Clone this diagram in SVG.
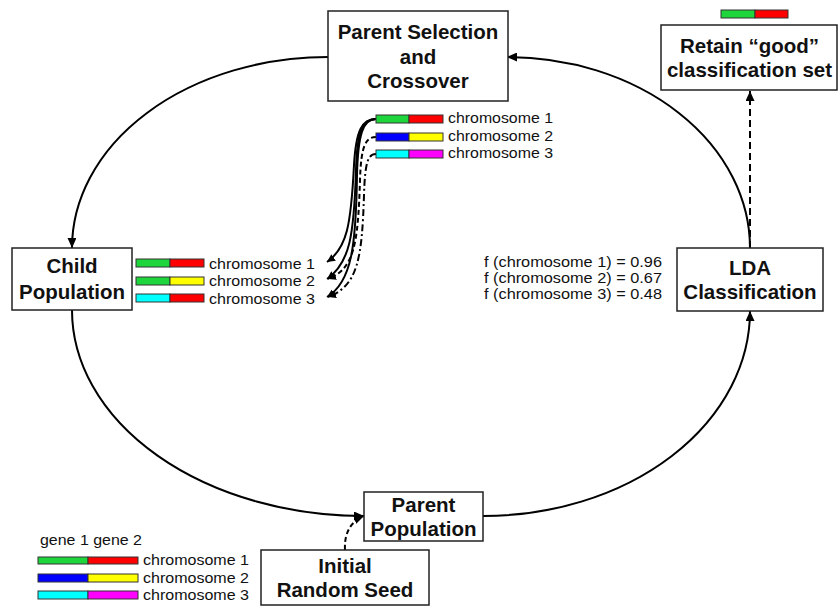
<svg xmlns="http://www.w3.org/2000/svg" width="839" height="606" viewBox="0 0 839 606">
<style>
.box{fill:#fff;stroke:#222;stroke-width:1.5}
.t{font-family:"Liberation Sans",Arial,sans-serif;font-weight:bold;font-size:20.5px;fill:#111;text-anchor:middle}
.r{font-family:"Liberation Sans",Arial,sans-serif;font-size:15px;fill:#111}
.bar{stroke:#333;stroke-width:1}
.loop{fill:none;stroke:#000;stroke-width:2}
.xo{fill:none;stroke:#000;stroke-width:2}
.g{fill:#1ed63c}.rd{fill:#ff0000}.b{fill:#0000ff}.y{fill:#ffff00}.c{fill:#00ffff}.m{fill:#ff00ff}
</style>
<defs>
<marker id="ah" markerUnits="userSpaceOnUse" markerWidth="11" markerHeight="9" refX="10" refY="4.5" orient="auto"><path d="M0,0 L10,4.5 L0,9 z" fill="#000"/></marker>
<marker id="ahs" markerUnits="userSpaceOnUse" markerWidth="9" markerHeight="8" refX="8" refY="4" orient="auto"><path d="M0,0 L8,4 L0,8 z" fill="#000"/></marker>
</defs>
<g id="connectors">
<path class="loop" d="M328,57 A256,191 0 0 0 72,248" marker-end="url(#ah)"/>
<path class="loop" d="M72,310 A292,206 0 0 0 364,516" marker-end="url(#ah)"/>
<path class="loop" d="M483,516 A267,205 0 0 0 750,311" marker-end="url(#ah)"/>
<path class="loop" d="M750,248 A243,191 0 0 0 507,57" marker-end="url(#ah)"/>
<path class="loop" d="M750,248 L750,91" stroke-dasharray="7,4" marker-end="url(#ah)"/>
<path class="loop" d="M345,550 C344,533 351,521 364,516" stroke-dasharray="5,3" marker-end="url(#ah)"/>
<path class="xo" d="M376,119 C362,119 356,130 354,165 C351,225 347,248 327,262" marker-end="url(#ahs)"/>
<path class="xo" d="M376,119 C362,119 357,132 356,170 C354,235 350,263 327,279" marker-end="url(#ahs)"/>
<path class="xo" d="M376,119 C363,119 358,134 357,175 C356,245 352,282 327,297" marker-end="url(#ahs)"/>
<path class="xo" d="M376,137 C366,137 361,145 360,180 C358,245 354,269 328,279" stroke-dasharray="5,3" marker-end="url(#ahs)"/>
<path class="xo" d="M376,154 C368,154 365,162 364,195 C362,258 358,286 328,297" stroke-dasharray="7,3,2,3" marker-end="url(#ahs)"/>
</g>
<g id="parent-selection">
<rect class="box" x="328" y="11" width="180" height="90"/>
<text class="t" x="418" y="39">Parent Selection</text>
<text class="t" x="418" y="64">and</text>
<text class="t" x="418" y="88">Crossover</text>
</g>
<g id="retain">
<rect class="box" x="661" y="25" width="176" height="65"/>
<text class="t" x="749.5" y="53">Retain “good”</text>
<text class="t" x="749.5" y="77">classification set</text>
<rect class="bar g" x="721" y="10" width="34" height="8"/>
<rect class="bar rd" x="755" y="10" width="33" height="8"/>
</g>
<g id="child-population">
<rect class="box" x="12" y="248" width="120" height="62"/>
<text class="t" x="72" y="273">Child</text>
<text class="t" x="72" y="299">Population</text>
</g>
<g id="lda">
<rect class="box" x="677" y="248" width="146" height="63"/>
<text class="t" x="750" y="275">LDA</text>
<text class="t" x="750" y="299">Classification</text>
</g>
<g id="parent-population">
<rect class="box" x="364" y="492" width="119" height="49"/>
<text class="t" x="423.5" y="512">Parent</text>
<text class="t" x="423.5" y="536">Population</text>
</g>
<g id="initial-seed">
<rect class="box" x="261" y="550" width="168" height="55"/>
<text class="t" x="345" y="573">Initial</text>
<text class="t" x="345" y="597">Random Seed</text>
</g>
<g id="top-chromosomes">
<rect class="bar g" x="376" y="115" width="33" height="8"/><rect class="bar rd" x="409" y="115" width="34" height="8"/>
<rect class="bar b" x="376" y="133" width="33" height="8"/><rect class="bar y" x="409" y="133" width="34" height="8"/>
<rect class="bar c" x="376" y="150" width="33" height="8"/><rect class="bar m" x="409" y="150" width="34" height="8"/>
<text class="r" x="448" y="123" textLength="105" lengthAdjust="spacingAndGlyphs">chromosome 1</text>
<text class="r" x="448" y="140.5" textLength="105" lengthAdjust="spacingAndGlyphs">chromosome 2</text>
<text class="r" x="448" y="157.5" textLength="105" lengthAdjust="spacingAndGlyphs">chromosome 3</text>
</g>
<g id="child-chromosomes">
<rect class="bar g" x="136" y="259" width="34" height="8"/><rect class="bar rd" x="170" y="259" width="34" height="8"/>
<rect class="bar g" x="136" y="277" width="34" height="8"/><rect class="bar y" x="170" y="277" width="34" height="8"/>
<rect class="bar c" x="136" y="294" width="34" height="8"/><rect class="bar rd" x="170" y="294" width="34" height="8"/>
<text class="r" x="209" y="268.5" textLength="106" lengthAdjust="spacingAndGlyphs">chromosome 1</text>
<text class="r" x="209" y="286" textLength="106" lengthAdjust="spacingAndGlyphs">chromosome 2</text>
<text class="r" x="209" y="303.5" textLength="106" lengthAdjust="spacingAndGlyphs">chromosome 3</text>
</g>
<g id="fitness">
<text class="r" x="484" y="267" textLength="178" lengthAdjust="spacingAndGlyphs">f (chromosome 1) = 0.96</text>
<text class="r" x="484" y="283" textLength="178" lengthAdjust="spacingAndGlyphs">f (chromosome 2) = 0.67</text>
<text class="r" x="484" y="299" textLength="178" lengthAdjust="spacingAndGlyphs">f (chromosome 3) = 0.48</text>
</g>
<g id="legend">
<text class="r" x="40" y="545" textLength="102" lengthAdjust="spacingAndGlyphs">gene 1 gene 2</text>
<rect class="bar g" x="38" y="557" width="50" height="7"/><rect class="bar rd" x="88" y="557" width="50" height="7"/>
<rect class="bar b" x="38" y="574" width="50" height="8"/><rect class="bar y" x="88" y="574" width="50" height="8"/>
<rect class="bar c" x="38" y="591" width="50" height="8"/><rect class="bar m" x="88" y="591" width="50" height="8"/>
<text class="r" x="143" y="565" textLength="106" lengthAdjust="spacingAndGlyphs">chromosome 1</text>
<text class="r" x="143" y="582.5" textLength="106" lengthAdjust="spacingAndGlyphs">chromosome 2</text>
<text class="r" x="143" y="600" textLength="106" lengthAdjust="spacingAndGlyphs">chromosome 3</text>
</g>
</svg>
